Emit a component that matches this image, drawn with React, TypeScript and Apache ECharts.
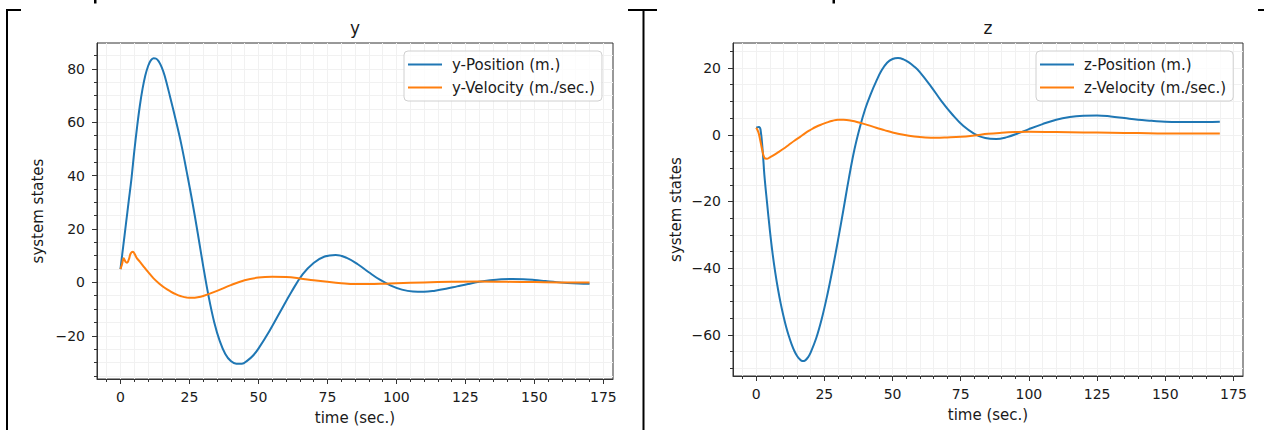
import React, { useEffect, useRef } from 'react';
import * as echarts from 'echarts';

// ---------- data ----------
const yPosTime = [0, 1, 2, 3, 4, 5, 6, 7, 8, 9, 10, 11, 12, 13, 14, 15, 16, 18, 20, 22, 24, 26, 28, 30, 32, 34, 36, 38, 40, 42, 44, 46, 48, 50, 54, 58, 62, 66, 70, 74, 78, 82, 86, 90, 94, 98, 102, 106, 110, 114, 118, 122, 126, 130, 134, 138, 142, 146, 150, 154, 158, 162, 166, 170];
const yPosValues = [5, 13.5, 22, 30.5, 39, 49, 58, 66, 72.5, 77.5, 81, 83.2, 84, 83.8, 82.6, 80.5, 77.5, 69.5, 61, 52, 41.5, 30.5, 18.5, 6, -5.5, -15, -22, -26.8, -29.5, -30.5, -30.5, -29.3, -27.5, -24.8, -18.2, -10.8, -3.5, 3, 7.3, 9.7, 10.3, 9.2, 6.8, 3.8, 1, -1.2, -2.7, -3.4, -3.5, -3.1, -2.4, -1.5, -0.6, 0.2, 0.8, 1.2, 1.3, 1.2, 0.9, 0.5, 0.1, -0.2, -0.4, -0.5];

const yVelTime = [0, 0.5, 1.2, 1.8, 2.4, 3, 3.7, 4.5, 5.2, 6, 7, 8, 10, 12, 14, 16, 18, 20, 22, 24, 26, 28, 30, 35, 40, 45, 50, 55, 60, 65, 70, 75, 80, 85, 90, 95, 100, 110, 120, 130, 140, 150, 160, 170];
const yVelValues = [5, 6.5, 9, 7.8, 7.4, 8.5, 10.8, 11.5, 10.5, 9, 7.8, 6.5, 3.9, 1.5, -0.4, -2, -3.3, -4.4, -5.2, -5.7, -5.8, -5.6, -5.1, -3.2, -1, 0.8, 1.8, 2.1, 2, 1.5, 0.8, 0.2, -0.3, -0.6, -0.6, -0.5, -0.3, 0, 0.2, 0.3, 0.2, 0.1, 0, 0];

const zPosTime = [0, 1, 1.6, 2.4, 3, 4, 5, 6, 7, 8, 9, 10, 11, 12, 13, 14, 15, 16, 17, 18, 19, 20, 22, 24, 26, 28, 30, 32, 34, 36, 38, 40, 42, 44, 46, 48, 50, 52, 54, 56, 58, 60, 64, 68, 72, 76, 80, 84, 88, 92, 96, 100, 105, 110, 115, 120, 125, 130, 135, 140, 145, 150, 155, 160, 165, 170];
const zPosValues = [2.1, 2.3, 1.5, -5, -12, -20.5, -28.5, -35.5, -41.3, -46.3, -50.6, -54.3, -57.6, -60.4, -62.8, -64.8, -66.3, -67.3, -67.8, -67.6, -66.7, -65.2, -61, -55.3, -48.3, -40.3, -31.6, -22.4, -13, -4.5, 2.2, 7.8, 12.2, 16, 19.3, 21.6, 22.7, 23, 22.6, 21.7, 20.4, 18.8, 14.6, 10, 6, 2.6, 0.3, -1, -1.3, -0.7, 0.4, 1.7, 3.2, 4.5, 5.3, 5.7, 5.8, 5.5, 5, 4.5, 4.2, 3.9, 3.8, 3.8, 3.8, 3.9];

const zVelTime = [0, 0.8, 1.5, 2.2, 3, 3.9, 5, 6.3, 8, 10, 12, 14, 16, 18, 20, 22, 24, 26, 28, 30, 32, 35, 38, 41, 44, 47, 50, 54, 58, 62, 66, 70, 75, 80, 85, 90, 95, 100, 110, 120, 130, 140, 150, 160, 170];
const zVelValues = [2.1, 0.8, -1.7, -4.5, -6.9, -7.2, -6.8, -6.2, -5.3, -4.2, -3, -1.8, -0.7, 0.5, 1.5, 2.4, 3.1, 3.7, 4.2, 4.5, 4.5, 4.2, 3.6, 2.9, 2.1, 1.4, 0.7, 0, -0.5, -0.8, -0.9, -0.8, -0.6, -0.2, 0.3, 0.6, 0.8, 0.9, 0.8, 0.7, 0.6, 0.5, 0.4, 0.4, 0.4];

const xTickLabels = [0, 25, 50, 75, 100, 125, 150, 175];
const yTickLabelsLeft = [-20, 0, 20, 40, 60, 80];
const yTickLabelsRight = [-60, -40, -20, 0, 20];

const xRange = [-8.5, 178.5];
const yRangeLeft = [-36.2, 89.7];
const yRangeRight = [-72.3, 27.5];

const seriesNames = {
  yPos: 'y-Position (m.)',
  yVel: 'y-Velocity (m./sec.)',
  zPos: 'z-Position (m.)',
  zVel: 'z-Velocity (m./sec.)',
};

// ---------- helpers ----------
const FONT = 'DejaVu Sans';
const TEXT = '#1a1a1a';
const SPINE = '#333333';
const BLUE = '#1f77b4';
const ORANGE = '#ff7f0e';

const pairs = (t: number[], v: number[]) => t.map((x, i) => [x, v[i]]);
const fmt = (v: number) => (v < 0 ? '\u2212' + Math.abs(v) : String(v));
const minorValues = (range: number[], step: number) => {
  const out: number[] = [];
  for (let v = Math.ceil(range[0] / step) * step; v <= range[1] + 1e-9; v += step) {
    out.push(Math.round(v * 1000) / 1000);
  }
  return out;
};

function mainX(gridIndex: number, nameGap: number) {
  return {
    type: 'value', gridIndex, min: xRange[0], max: xRange[1], position: 'bottom',
    name: 'time (sec.)', nameLocation: 'middle', nameGap,
    nameTextStyle: { fontFamily: FONT, fontSize: 15, color: TEXT },
    axisLine: { show: true, onZero: false, lineStyle: { color: SPINE, width: 1 } },
    axisTick: { show: true, inside: false, length: 5, customValues: xTickLabels, lineStyle: { color: SPINE, width: 1 } },
    axisLabel: { show: true, customValues: xTickLabels, margin: 11, fontFamily: FONT, fontSize: 14, color: TEXT, formatter: fmt },
    splitLine: { show: true, lineStyle: { color: '#e2e2e2', width: 1 } },
  };
}
function minorX(gridIndex: number) {
  const vals = minorValues(xRange, 5);
  return {
    type: 'value', gridIndex, min: xRange[0], max: xRange[1], position: 'bottom',
    axisLine: { show: false, onZero: false },
    axisTick: { show: true, inside: false, length: 3, customValues: vals, lineStyle: { color: SPINE, width: 1 } },
    axisLabel: { show: false },
    splitLine: { show: true, lineStyle: { color: '#f1f1f1', width: 1 } },
  };
}
function mainY(gridIndex: number, range: number[], ticks: number[], nameGap: number) {
  return {
    type: 'value', gridIndex, min: range[0], max: range[1], position: 'left',
    name: 'system states', nameLocation: 'middle', nameGap,
    nameTextStyle: { fontFamily: FONT, fontSize: 15, color: TEXT },
    axisLine: { show: true, onZero: false, lineStyle: { color: SPINE, width: 1 } },
    axisTick: { show: true, inside: false, length: 5, customValues: ticks, lineStyle: { color: SPINE, width: 1 } },
    axisLabel: { show: true, customValues: ticks, margin: 12, fontFamily: FONT, fontSize: 14, color: TEXT, formatter: fmt },
    splitLine: { show: true, lineStyle: { color: '#e2e2e2', width: 1 } },
  };
}
function minorY(gridIndex: number, range: number[]) {
  const vals = minorValues(range, 5);
  return {
    type: 'value', gridIndex, min: range[0], max: range[1], position: 'left',
    axisLine: { show: false, onZero: false },
    axisTick: { show: true, inside: false, length: 3, customValues: vals, lineStyle: { color: SPINE, width: 1 } },
    axisLabel: { show: false },
    splitLine: { show: true, lineStyle: { color: '#f1f1f1', width: 1 } },
  };
}
function lineSeries(name: string, data: number[][], color: string, axisIndex: number) {
  return {
    type: 'line', name, data, xAxisIndex: axisIndex, yAxisIndex: axisIndex,
    showSymbol: false, symbol: 'none', smooth: 0.4,
    lineStyle: { color, width: 2 }, itemStyle: { color },
    z: 3,
  };
}
function legendFor(left: number, names: string[]) {
  return {
    left, top: 51, orient: 'vertical', icon: 'rect',
    itemWidth: 34, itemHeight: 2, itemGap: 6,
    padding: [5, 7, 5, 4],
    borderColor: '#d0d0d0', borderWidth: 1, borderRadius: 4,
    backgroundColor: 'rgba(255,255,255,0.8)',
    textStyle: { fontFamily: FONT, fontSize: 15, color: TEXT, lineHeight: 17, padding: [0, 0, 0, 5] },
    data: names,
  };
}

export default function App() {
  const ref = useRef<HTMLDivElement>(null);
  useEffect(() => {
    if (!ref.current) return;
    const chart = echarts.init(ref.current, undefined, { renderer: 'svg' });
    const frame = { stroke: '#000', lineWidth: 2 };
    chart.setOption({
      animation: false,
      backgroundColor: '#ffffff',
      textStyle: { fontFamily: FONT },
      title: [
        { text: 'y', left: 355, top: 19, textAlign: 'center', textStyle: { fontFamily: FONT, fontSize: 17, fontWeight: 'normal', color: TEXT }, padding: 0 },
        { text: 'z', left: 988, top: 19, textAlign: 'center', textStyle: { fontFamily: FONT, fontSize: 17, fontWeight: 'normal', color: TEXT }, padding: 0 },
      ],
      grid: [
        { left: 97, top: 43, width: 516, height: 337, show: true, borderColor: SPINE, borderWidth: 1, backgroundColor: 'transparent', containLabel: false },
        { left: 733, top: 43, width: 510, height: 333, show: true, borderColor: SPINE, borderWidth: 1, backgroundColor: 'transparent', containLabel: false },
      ],
      xAxis: [mainX(0, 31), minorX(0), mainX(1, 31), minorX(1)],
      yAxis: [mainY(0, yRangeLeft, yTickLabelsLeft, 52), minorY(0, yRangeLeft), mainY(1, yRangeRight, yTickLabelsRight, 50), minorY(1, yRangeRight)],
      legend: [
        legendFor(404, [seriesNames.yPos, seriesNames.yVel]),
        legendFor(1036, [seriesNames.zPos, seriesNames.zVel]),
      ],
      series: [
        lineSeries(seriesNames.yPos, pairs(yPosTime, yPosValues), BLUE, 0),
        lineSeries(seriesNames.yVel, pairs(yVelTime, yVelValues), ORANGE, 0),
        lineSeries(seriesNames.zPos, pairs(zPosTime, zPosValues), BLUE, 2),
        lineSeries(seriesNames.zVel, pairs(zVelTime, zVelValues), ORANGE, 2),
      ],
      graphic: [
        { type: 'line', shape: { x1: 7, y1: 10, x2: 7, y2: 430 }, style: frame },
        { type: 'line', shape: { x1: 6, y1: 10, x2: 21, y2: 10 }, style: frame },
        { type: 'line', shape: { x1: 628, y1: 10, x2: 657, y2: 10 }, style: frame },
        { type: 'line', shape: { x1: 643.5, y1: 10, x2: 643.5, y2: 430 }, style: frame },
        { type: 'line', shape: { x1: 1258, y1: 10, x2: 1264, y2: 10 }, style: frame },
        { type: 'rect', shape: { x: 94, y: 0, width: 2.5, height: 3.5 }, style: { fill: '#000' } },
        { type: 'rect', shape: { x: 832.5, y: 0, width: 2.5, height: 3.5 }, style: { fill: '#000' } },
      ],
    });
    return () => chart.dispose();
  }, []);
  return (
    <div
      ref={ref}
      style={{ position: 'absolute', left: 0, top: 0, width: 1264, height: 430, background: '#fff' }}
    />
  );
}
